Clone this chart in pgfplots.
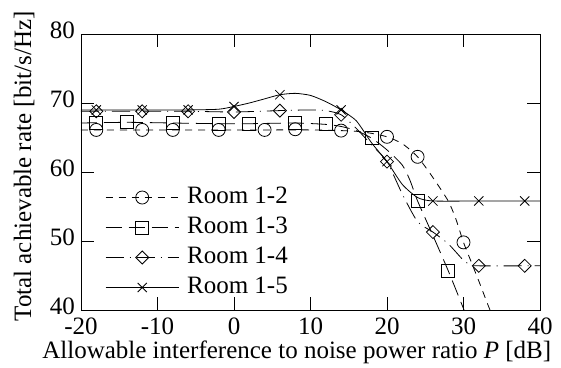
\documentclass[border=0pt]{standalone}
\usepackage{fontspec}
\setmainfont{Liberation Serif}
\usepackage{pgfplots}
\pgfplotsset{compat=1.18}
\begin{document}
\fontsize{25}{30}\selectfont
\begin{tikzpicture}
\begin{axis}[
  name=ax,
  at={(0pt,0pt)}, anchor=south west,
  scale only axis,
  width=459pt, height=276pt,
  xmin=-20, xmax=40, ymin=40, ymax=80,
  xtick={-20,-10,...,40}, ytick={40,50,...,80},
  xtick pos=both, ytick pos=both,
  tick align=inside,
  major tick length=13pt,
  axis line style={line width=0.9pt},
  every tick/.style={line width=0.8pt, black},
  /pgf/number format/assume math mode=true,
  ticklabel style={font=\fontsize{25}{30}\selectfont},
  xticklabel style={inner sep=0pt, yshift=-8pt},
  yticklabel style={inner sep=0pt, xshift=-6pt, yshift=4pt},
  xlabel={Allowable interference to noise power ratio \textit{P} [dB]},
  ylabel={Total achievable rate [bit/s/Hz]},
  label style={font=\fontsize{25}{30}\selectfont},
  xlabel style={at={(axis description cs:0.47,-0.11)}, anchor=north, inner sep=0pt},
  ylabel style={at={(axis description cs:-0.124,0.52)}, anchor=center, inner sep=0pt},
  legend style={at={(axis description cs:0.046,0.03)}, anchor=south west, draw=none, fill=none,
    font=\fontsize{25}{30}\selectfont, column sep=8pt, row sep=6pt,
    nodes={inner sep=0pt, text height=18pt, text depth=6pt, anchor=base west}},
  legend cell align=left,
  legend image code/.code={\draw[mark repeat=2, mark phase=2, #1] plot coordinates {(0pt,6pt) (36.5pt,6pt) (73pt,6pt)};},
  every axis plot/.append style={line width=0.8pt, black},
]
% Room 1-2
\addplot[dash pattern=on 7pt off 6pt, smooth, tension=0.4, forget plot] coordinates {
(-20,66.1) (-14,66.1) (-8,66.1) (-2,66.1) (4,66.1) (10,66.1) (14,66.0) (16,65.9) (18,65.6) (20,65.1) (22,64.1) (24,62.2) (26,59.2) (28,55.8) (29,53.2) (30,49.8) (31,47.0) (32,44.2) (33,41.3) (34,38.5)};
\addplot[only marks, mark=o, mark size=6.5pt, forget plot] coordinates {
(-18,66.1) (-12,66.1) (-8,66.1) (-2,66.1) (4,66.1) (8,66.2) (14,66.0) (20,65.1) (24,62.2) (30,49.8)};
% Room 1-3
\addplot[dash pattern=on 16pt off 7pt, smooth, tension=0.4, forget plot] coordinates {
(-20,67.1) (-14,67.2) (-8,67.1) (-2,67.0) (2,67.0) (8,67.1) (12,66.9) (14,66.6) (16,66.0) (18,64.9) (20,63.2) (22,61.0) (23,58.8) (24,55.8) (26,50.8) (28,45.7) (30,40.2) (31,37.5)};
\addplot[only marks, mark=square, mark size=6.5pt, forget plot] coordinates {
(-18,67.1) (-14,67.2) (-8,67.1) (-2,67.0) (2,67.0) (8,67.1) (12,66.9) (18,64.9) (24,55.8) (28,45.7)};
% Room 1-4
\addplot[dash pattern=on 18pt off 6pt on 1pt off 6pt, smooth, tension=0.4, forget plot] coordinates {
(-20,68.8) (-12,68.8) (-6,68.8) (0,68.7) (6,68.9) (10,69.0) (12,68.9) (14,68.3) (16,66.3) (18,63.9) (20,61.5) (22,56.8) (24,52.8) (26,51.3) (28,49.6) (30,47.2) (31,46.5) (32,46.4) (38,46.4) (40,46.4)};
\addplot[only marks, mark=square, mark size=4.6pt, mark options={rotate=45}, forget plot] coordinates {
(-18,68.8) (-12,68.8) (-6,68.8) (0,68.7) (6,68.9) (14,68.3) (20,61.5) (26,51.3) (32,46.4) (38,46.4)};
% Room 1-5
\addplot[solid, smooth, tension=0.4, forget plot] coordinates {
(-20,69.0) (-12,69.0) (-6,69.0) (-2,69.1) (0,69.5) (2,70.0) (4,70.6) (6,71.2) (8,71.4) (10,71.1) (12,70.2) (14,69.0) (16,67.4) (18,64.2) (20,61.5) (22,58.2) (24,56.3) (26,55.8) (32,55.8) (38,55.8) (40,55.8)};
\addplot[only marks, mark=x, mark size=6.5pt, forget plot] coordinates {
(-18,69.0) (-12,69.0) (-6,69.0) (0,69.5) (6,71.2) (14,69.0) (20,61.5) (26,55.8) (32,55.8) (38,55.8)};
\addlegendimage{dash pattern=on 7pt off 6pt, mark=o, mark size=6.5pt, mark options={solid}}
\addlegendentry{Room 1-2}
\addlegendimage{dash pattern=on 16pt off 7pt, mark=square, mark size=6.5pt, mark options={solid}}
\addlegendentry{Room 1-3}
\addlegendimage{dash pattern=on 18pt off 6pt on 1pt off 6pt, mark=square, mark size=4.6pt, mark options={solid,rotate=45}}
\addlegendentry{Room 1-4}
\addlegendimage{solid, mark=x, mark size=6.5pt}
\addlegendentry{Room 1-5}
\end{axis}
\pgfresetboundingbox
\path (-81pt,-57pt) rectangle (480pt,310pt);
\end{tikzpicture}
\end{document}
